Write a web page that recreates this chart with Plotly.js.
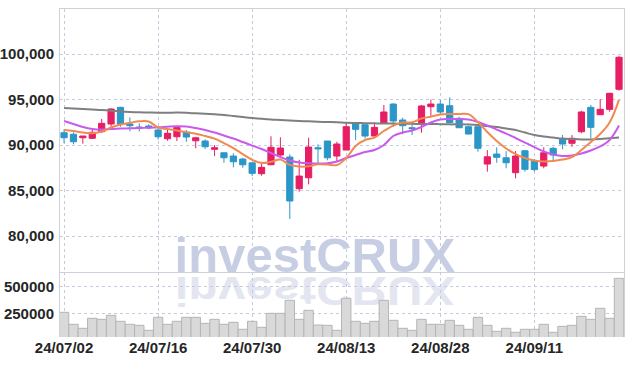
<!DOCTYPE html>
<html><head><meta charset="utf-8">
<script src="https://cdn.plot.ly/plotly-3.0.1.min.js"></script>
<style>html,body{margin:0;padding:0;background:#fff}#chart{width:634px;height:366px}</style>
</head><body><div id="chart"></div>
<script>
const dates = ["24/07/02","24/07/03","24/07/04","24/07/05","24/07/08","24/07/09","24/07/10","24/07/11","24/07/12","24/07/15",
"24/07/16","24/07/17","24/07/18","24/07/19","24/07/22","24/07/23","24/07/24","24/07/25","24/07/26","24/07/29",
"24/07/30","24/07/31","24/08/01","24/08/02","24/08/05","24/08/06","24/08/07","24/08/08","24/08/09","24/08/12",
"24/08/13","24/08/14","24/08/16","24/08/19","24/08/20","24/08/21","24/08/22","24/08/23","24/08/26","24/08/27",
"24/08/28","24/08/29","24/08/30","24/09/02","24/09/03","24/09/04","24/09/05","24/09/06","24/09/09","24/09/10",
"24/09/11","24/09/12","24/09/13","24/09/19","24/09/20","24/09/23","24/09/24","24/09/25","24/09/26","24/09/27"];
const openP  = [91350,91180,90800,90740,91460,92310,94140,92310,91980,92090,91650,90690,90910,91400,90470,90440,89530,89150,88790,88460,
88050,86850,87830,88900,88680,85200,86400,89700,90440,88790,89450,92450,92230,90990,92380,94500,92750,91900,92450,94210,
94500,94320,92930,92010,92010,87910,89010,88600,86960,89370,88200,87690,89640,90630,90190,91460,94140,93330,93920,96120];
const highP  = [91720,91400,91000,91720,92860,94030,94200,93040,92380,92270,91830,91650,92120,91650,90910,90630,90000,89150,89090,88600,
88050,88160,90960,90850,88980,88380,90800,90080,90440,90360,92490,92450,92230,92310,94400,94600,93000,92560,94400,95000,
94950,95240,93110,92100,92010,89450,89750,89340,89340,89450,88450,89750,89810,91100,91100,93770,94400,95020,95750,99810];
const lowP   = [90190,90080,90140,90650,91350,91980,92010,91500,91500,91720,90600,90470,90440,90360,89640,89560,88790,88050,87550,87500,
86590,86630,87830,88600,81870,84870,85680,87910,88320,88100,89450,90550,90740,90990,92380,92010,91180,91100,91350,93110,
93300,92450,91900,91150,89260,87070,88050,87440,86340,87070,87070,87440,88350,89530,89810,91290,90740,93300,93660,95970];
const closeP = [90800,90360,90990,91400,92380,93960,92270,92120,91870,91900,90910,91290,91940,90880,90800,89810,89700,88600,88160,87830,
86890,87550,89750,89670,83850,86590,89780,89590,88600,90110,92010,91720,90990,91940,93630,92640,92120,91800,94290,94500,
93630,92450,91900,91210,89640,88710,88650,88050,88790,87330,87300,89150,88900,90110,90740,93630,91940,93920,95680,99640];
const ma5  = [91650,91540,91370,91290,91480,91920,92250,92440,92600,92580,91920,91760,91590,91430,91240,90990,90710,90220,89670,89010,
88380,88020,88160,88400,87820,87640,87660,87880,87860,87800,88570,89890,90550,90820,91540,92140,92470,92500,92910,93110,
93350,93410,93410,93390,92530,91430,90440,89620,89010,88570,88300,88190,88240,88400,88680,89450,90330,91210,92470,94960];
const ma20 = [92640,92310,91980,91760,91700,91760,91810,91830,91870,91900,91940,92010,92065,92030,91870,91650,91370,91040,90710,90330,
89940,89560,89120,88680,88300,88080,87990,87970,87990,88190,88570,88900,89230,89450,90000,90990,91370,91590,91980,92470,
92800,92860,92860,92800,92530,92140,91700,91260,90770,90270,89780,89290,88960,88790,88850,89070,89400,89840,90550,92140];
const ma60 = [94065,94010,93955,93900,93846,93770,93680,93626,93593,93570,93550,93550,93570,93540,93480,93430,93370,93300,93190,93080,
92970,92880,92800,92750,92690,92640,92600,92560,92530,92500,92450,92420,92400,92380,92360,92360,92340,92330,92310,92310,
92290,92270,92270,92250,92200,92090,91980,91810,91650,91370,91100,90930,90820,90710,90660,90620,90620,90660,90740,90820];
const volume = [259400,146600,109000,203000,193600,231200,174800,146600,137200,90200,212400,146600,174800,212400,212400,156000,193600,146600,165400,99600,
174800,118400,250000,250000,372200,193600,278200,140000,137200,90200,391000,174800,156000,174800,372200,184200,109000,90200,193600,146600,
146600,184200,137200,99600,212400,137200,80800,109000,71400,99600,99600,146600,71400,127800,137200,221800,193600,297000,203000,579000];
const xTicks = ["24/07/02","24/07/16","24/07/30","24/08/13","24/08/28","24/09/11"];
const priceTicks = [80000,85000,90000,95000,100000];
const volTicks = [250000,500000];
const volTickText = ["250000","500000"];

const UP = '#e61e64', DOWN = '#2b96c8';
const tickFont = {family:'Liberation Sans Narrow, sans-serif', size:15, weight:700, color:'#262626'};
const gridC = '#c6cadf', lineC = '#cfd1da';

const data = [
  {type:'candlestick', x:dates, open:openP, high:highP, low:lowP, close:closeP, xaxis:'x', yaxis:'y',
   increasing:{line:{color:UP,width:1}, fillcolor:UP}, decreasing:{line:{color:DOWN,width:1}, fillcolor:DOWN},
   whiskerwidth:0, hoverinfo:'none', showlegend:false},
  {type:'scatter', mode:'lines', x:dates, y:ma60, line:{color:'#7f7f7f', width:2, shape:'spline'}, xaxis:'x', yaxis:'y', hoverinfo:'none'},
  {type:'scatter', mode:'lines', x:dates, y:ma20, line:{color:'#c95bec', width:2, shape:'spline'}, xaxis:'x', yaxis:'y', hoverinfo:'none'},
  {type:'scatter', mode:'lines', x:dates, y:ma5, line:{color:'#f08a52', width:2, shape:'spline'}, xaxis:'x', yaxis:'y', hoverinfo:'none'},
  {type:'bar', x:dates, y:volume, xaxis:'x2', yaxis:'y2', marker:{color:'#d9d9d9', line:{color:'#b5b5b5', width:1}}, hoverinfo:'none'}
];

const wmFont = {family:'Liberation Sans, Arial, sans-serif', size:49, weight:700};
const layout = {
  width:634, height:366, margin:{l:60, r:10, t:9, b:29},
  paper_bgcolor:'#fff', plot_bgcolor:'rgba(0,0,0,0)', showlegend:false, bargap:0, boxgap:0.34, boxgroupgap:0,
  xaxis:{type:'category', domain:[0,1], anchor:'y', range:[-0.43,59.53], rangeslider:{visible:false},
    tickvals:xTicks, showticklabels:false, ticks:'', showgrid:true, gridcolor:gridC, griddash:'dot', gridwidth:1,
    showline:true, linecolor:lineC, linewidth:1, mirror:true, zeroline:false, fixedrange:true},
  yaxis:{domain:[0.198,1], anchor:'x', range:[76044,104945], tickvals:priceTicks, tickformat:',d',
    tickfont:tickFont, ticks:'', ticklabelstandoff:2, showgrid:true, gridcolor:gridC, griddash:'dot', gridwidth:1,
    showline:true, linecolor:lineC, linewidth:1, mirror:true, zeroline:false},
  xaxis2:{type:'category', domain:[0,1], anchor:'y2', matches:'x', range:[-0.43,59.53],
    tickvals:xTicks, ticktext:xTicks, tickfont:tickFont, ticks:'', showgrid:true, gridcolor:gridC, griddash:'dot', gridwidth:1,
    showline:false, zeroline:false},
  yaxis2:{domain:[0,0.198], anchor:'x2', range:[27270,638150], tickvals:volTicks, ticktext:volTickText,
    tickfont:tickFont, ticks:'', ticklabelstandoff:2, showgrid:true, gridcolor:gridC, griddash:'dot', gridwidth:1,
    showline:true, linecolor:lineC, linewidth:1, mirror:true, zeroline:false},
  annotations:[
    {text:'investCRUX', xref:'paper', yref:'paper', x:0.452, y:0.2515, showarrow:false, xanchor:'center', yanchor:'middle',
     font:Object.assign({color:'#e3e6f0'}, wmFont)},
    {text:'investCRUX', xref:'paper', yref:'paper', x:0.452, y:0.2515, showarrow:false, xanchor:'center', yanchor:'middle',
     font:Object.assign({color:'#c7cee3'}, wmFont)}
  ]
};

const gd = document.getElementById('chart');
Plotly.newPlot(gd, data, layout, {staticPlot:true, displayModeBar:false}).then(() => {
  const below = gd.querySelector('.layer-below');
  const anns = Array.from(gd.querySelectorAll('.infolayer g.annotation'));
  if (!below || anns.length < 2) return;
  anns.forEach(a => {
    below.appendChild(a);
    a.querySelectorAll('text, tspan').forEach(t => {
      t.style.fontWeight = '700';
      t.setAttribute('font-weight', '700');
      t.style.fontFamily = "'Liberation Sans', Arial, sans-serif";
    });
  });
  const mainText = anns[1].querySelector('text');
  const r = mainText.getBoundingClientRect();
  const base = r.top + r.height * 0.81;
  const dx = 315 - (r.left + r.width / 2);
  const dy = 272 - base;
  anns[1].setAttribute('transform', `translate(${dx},${dy})`);
  const k = 0.83, B = 272, gap = 5;
  const f = B + gap + k * B - k * dy;
  anns[0].setAttribute('transform', `matrix(1,0,0,${-k},${dx},${f})`);
});
</script>
</body></html>
